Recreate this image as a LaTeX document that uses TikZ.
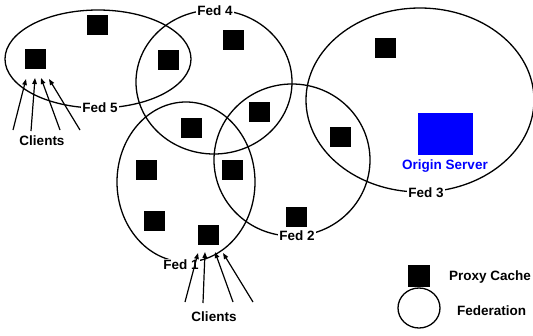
\documentclass[tikz,border=0pt]{standalone}
\usepackage{fontspec}
\setmainfont{Liberation Sans}
\usetikzlibrary{arrows.meta}
\begin{document}
\begin{tikzpicture}[x=1pt,y=-1pt,
  fed/.style={draw=black,line width=1.3pt},
  cache/.style={fill=black,minimum width=21pt,minimum height=20pt,inner sep=0pt},
  lbl/.style={font=\bfseries\fontsize{13.5}{15}\selectfont,inner sep=1pt},
  onl/.style={lbl,fill=white},
  cli/.style={line width=1.2pt,-{Triangle[length=6pt,width=4.5pt]}}]
\useasboundingbox (0,0) rectangle (533,335);
% federations
\draw[fed] (98,59) ellipse [x radius=93pt,y radius=49pt];
\draw[fed] (214,82) ellipse [x radius=78pt,y radius=72pt];
\draw[fed] (186,182) ellipse [x radius=69pt,y radius=80pt];
\draw[fed] (292,160) ellipse [x radius=78pt,y radius=76pt];
\draw[fed] (420,100) ellipse [x radius=114pt,y radius=92pt];
% labels on the federations
\node[onl] (f4) at (215,11) {Fed 4};
\node[onl] (f5) at (100,108) {Fed 5};
\node[onl] (f1) at (181,265) {Fed 1};
\node[onl] (f2) at (297,236) {Fed 2};
\node[onl] (f3) at (426,193) {Fed 3};
% proxy caches
\node[cache] (p1) at (97,25) {};
\node[cache] (p2) at (35,59) {};
\node[cache] (p3) at (168,60) {};
\node[cache] (p4) at (233,40) {};
\node[cache] (p5) at (259,112) {};
\node[cache] (p6) at (191,128) {};
\node[cache] (p7) at (146,170) {};
\node[cache] (p8) at (232,170) {};
\node[cache] (p9) at (154,221) {};
\node[cache] (p10) at (208,235) {};
\node[cache] (p11) at (296,217) {};
\node[cache] (p12) at (385,48) {};
\node[cache] (p13) at (340,137) {};
% origin server
\node[fill={rgb,255:red,0;green,0;blue,255},minimum width=55pt,minimum height=42pt,inner sep=0pt] (os) at (445,134) {};
\node[lbl,text={rgb,255:red,0;green,0;blue,255}] (ost) at (445,166) {Origin Server};
% clients top-left
\node[lbl] (c1) at (42,141) {Clients};
\coordinate (a1) at (13,130); \coordinate (t1) at (26,79);
\coordinate (a2) at (31,131); \coordinate (t2) at (35,78);
\coordinate (a3) at (60,130); \coordinate (t3) at (41,78);
\coordinate (a4) at (80,130); \coordinate (t4) at (49,79);
\draw[cli] (a1) -- (t1);
\draw[cli] (a2) -- (t2);
\draw[cli] (a3) -- (t3);
\draw[cli] (a4) -- (t4);
% clients bottom
\node[lbl] (c2) at (214,317) {Clients};
\coordinate (b1) at (185,302); \coordinate (u1) at (198,253);
\coordinate (b2) at (203,303); \coordinate (u2) at (205,252);
\coordinate (b3) at (233,302); \coordinate (u3) at (215,252);
\coordinate (b4) at (253,302); \coordinate (u4) at (223,253);
\draw[cli] (b1) -- (u1);
\draw[cli] (b2) -- (u2);
\draw[cli] (b3) -- (u3);
\draw[cli] (b4) -- (u4);
% legend
\node[cache,minimum width=22pt,minimum height=22pt] (lc) at (419,276) {};
\node[lbl,anchor=west] (lct) at (448,277) {Proxy Cache};
\draw[fed] (419,308) ellipse [x radius=21pt,y radius=20pt];
\node[lbl,anchor=west] (lft) at (456,311) {Federation};
\end{tikzpicture}
\end{document}
